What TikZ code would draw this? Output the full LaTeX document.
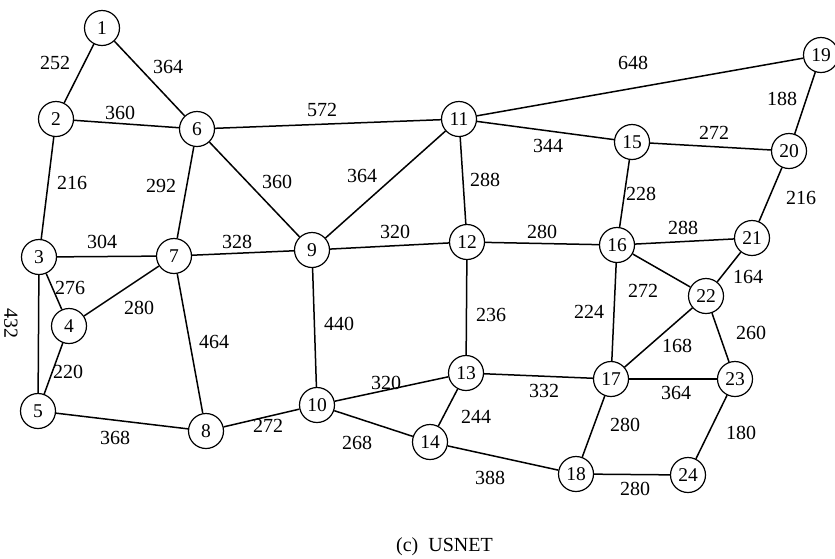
\documentclass[tikz,border=0pt]{standalone}
\usepackage{fontspec}
\setmainfont{Liberation Serif}
\begin{document}
\begin{tikzpicture}[x=1pt,y=-1pt,
  vtx/.style={circle,draw,line width=1.2pt,minimum size=35pt,inner sep=0pt,font=\fontsize{19.5}{20}\selectfont,fill=white},
  lbl/.style={inner sep=0pt,font=\fontsize{20}{22}\selectfont},
  edge/.style={line width=1.5pt}]
\useasboundingbox (0,0) rectangle (835,558);
\node[vtx] (n1) at (102,28) {1};
\node[vtx] (n2) at (56,119) {2};
\node[vtx] (n3) at (39,257) {3};
\node[vtx] (n4) at (69,326) {4};
\node[vtx] (n5) at (38,411) {5};
\node[vtx] (n6) at (197,129) {6};
\node[vtx] (n7) at (174,256) {7};
\node[vtx] (n8) at (206,431) {8};
\node[vtx] (n9) at (312,250) {9};
\node[vtx] (n10) at (317,405) {10};
\node[vtx] (n11) at (459,119) {11};
\node[vtx] (n12) at (467,242) {12};
\node[vtx] (n13) at (466,373) {13};
\node[vtx] (n14) at (430,442) {14};
\node[vtx] (n15) at (632,142) {15};
\node[vtx] (n16) at (617,245) {16};
\node[vtx] (n17) at (611,379) {17};
\node[vtx] (n18) at (576,474) {18};
\node[vtx] (n19) at (821,55) {19};
\node[vtx] (n20) at (789,151) {20};
\node[vtx] (n21) at (752,238) {21};
\node[vtx] (n22) at (706,296) {22};
\node[vtx] (n23) at (735,379) {23};
\node[vtx] (n24) at (688,475) {24};
\begin{scope}[on background layer/.style={}]
\foreach \a/\b in {1/2,1/6,2/6,2/3,6/7,6/9,6/11,3/7,3/4,3/5,4/7,4/5,5/8,7/8,7/9,8/10,9/10,9/11,9/12,10/13,10/14,11/12,11/15,11/19,12/16,12/13,13/14,13/17,14/18,15/16,15/20,19/20,20/21,16/21,16/17,16/22,21/22,22/17,22/23,17/23,17/18,18/24,23/24}
  \draw[edge] (n\a) -- (n\b);
\end{scope}
\node[lbl] (l1) at (55,63) {252};
\node[lbl] (l2) at (168,67) {364};
\node[lbl] (l3) at (120,113) {360};
\node[lbl] (l4) at (72,183) {216};
\node[lbl] (l5) at (161,186) {292};
\node[lbl] (l6) at (277,182) {360};
\node[lbl] (l7) at (322,110) {572};
\node[lbl] (l8) at (362,176) {364};
\node[lbl] (l9) at (102,242) {304};
\node[lbl] (l10) at (237,242) {328};
\node[lbl] (l11) at (70,288) {276};
\node[lbl,rotate=-90] (l12) at (11,323) {432};
\node[lbl] (l13) at (139,308) {280};
\node[lbl] (l14) at (214,342) {464};
\node[lbl] (l15) at (68,372) {220};
\node[lbl] (l16) at (115,438) {368};
\node[lbl] (l17) at (268,426) {272};
\node[lbl] (l18) at (339,324) {440};
\node[lbl] (l19) at (395,232) {320};
\node[lbl] (l20) at (386,383) {320};
\node[lbl] (l21) at (357,443) {268};
\node[lbl] (l22) at (476,417) {244};
\node[lbl] (l23) at (491,315) {236};
\node[lbl] (l24) at (485,180) {288};
\node[lbl] (l25) at (548,146) {344};
\node[lbl] (l26) at (542,232) {280};
\node[lbl] (l27) at (641,194) {228};
\node[lbl] (l28) at (633,63) {648};
\node[lbl] (l29) at (782,99) {188};
\node[lbl] (l30) at (714,133) {272};
\node[lbl] (l31) at (801,198) {216};
\node[lbl] (l32) at (683,228) {288};
\node[lbl] (l33) at (748,277) {164};
\node[lbl] (l34) at (643,291) {272};
\node[lbl] (l35) at (589,312) {224};
\node[lbl] (l36) at (751,333) {260};
\node[lbl] (l37) at (677,346) {168};
\node[lbl] (l38) at (676,393) {364};
\node[lbl] (l39) at (625,425) {280};
\node[lbl] (l40) at (741,433) {180};
\node[lbl] (l41) at (635,489) {280};
\node[lbl] (l42) at (544,391) {332};
\node[lbl] (l43) at (490,478) {388};
\node[lbl,anchor=base] (cap) at (444.5,551) {(c)\enspace USNET};
\end{tikzpicture}
\end{document}
